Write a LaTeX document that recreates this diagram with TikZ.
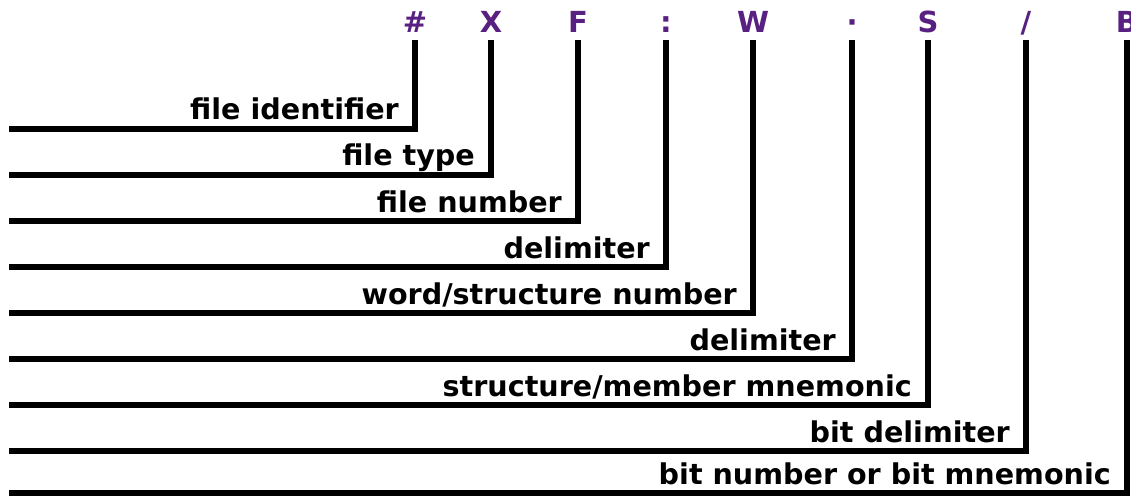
\documentclass[tikz,border=0pt]{standalone}
\usepackage{fontspec}
\setmainfont{DejaVu Sans}
\definecolor{sym}{RGB}{88,32,128}
\begin{document}
\begin{tikzpicture}[x=1pt,y=-1pt,
  wire/.style={line width=5.5pt,line join=miter,line cap=butt},
  lbl/.style={anchor=base east,inner sep=0pt,font=\fontsize{28.6}{30}\selectfont\bfseries},
  symb/.style={anchor=base,inner sep=0pt,text=sym,font=\fontsize{29}{30}\selectfont\bfseries}]
\useasboundingbox (0,0) rectangle (1131,497);
\foreach \i/\x/\y/\s/\t in {1/415/129/\#/file identifier,
                          2/491/175/X/file type,
                          3/578/221/F/file number,
                          4/666/267/:/delimiter,
                          5/753/313/W/word\slash structure number,
                          6/852/359/·/delimiter,
                          7/928/405/S/structure\slash member mnemonic,
                          8/1026/451/\slash/bit delimiter,
                          9/1127/493/B/bit number or bit mnemonic}{
  \node[symb] (s\i) at (\x,33) {\s};
  \coordinate (top\i) at (\x,40);
  \coordinate (start\i) at (9,\y);
  \coordinate (corner\i) at (\x,\y);
  \node[lbl] (l\i) at ([shift={(-16,-9)}]corner\i) {\t};
  \draw[wire] (start\i) -- (corner\i) -- (top\i);
}
\end{tikzpicture}
\end{document}
